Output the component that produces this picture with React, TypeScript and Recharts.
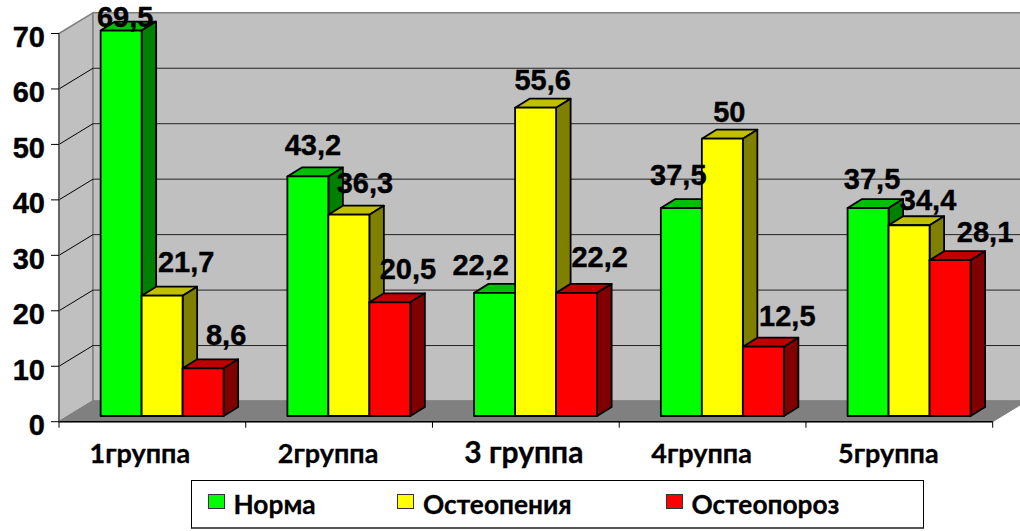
import React from "react";
import { BarChart, Bar, XAxis, YAxis, CartesianGrid, Legend, LabelList } from "recharts";

const categories = ["1группа", "2группа", "3 группа", "4группа", "5группа"];
const norma = [69.5, 43.2, 22.2, 37.5, 37.5];
const osteopenia = [21.7, 36.3, 55.6, 50, 34.4];
const osteoporosis = [8.6, 20.5, 22.2, 12.5, 28.1];
const yTicks = [0, 10, 20, 30, 40, 50, 60, 70];
const seriesNames = ["Норма", "Остеопения", "Остеопороз"];

const chartData = categories.map((name, i) => ({
  name,
  norma: norma[i],
  osteopenia: osteopenia[i],
  osteoporosis: osteoporosis[i],
}));

// manual label placement (dx from bar centre, baseline rise above bar top)
const nudgeNorma = [[4, 3.5], [5, 21.5], [-14, 17.5], [-3, 23.5], [4, 19]];
const nudgeOsteopenia = [[24, 23.5], [16, 21.5], [7, 17.5], [7, 16.5], [19, 15.5]];
const nudgeOsteoporosis = [[23, 23], [18, 23.5], [23, 25.5], [24, 21], [35, 18]];
const tickNudge = [-12.5, -11, -2, -11, -11];

const W = 1020, H = 531;
const LEFT = 59, RIGHT = 992.7, TOP = 33.5, BOTTOM = 421.7;
const WALL_DX = 34, WALL_DY = 20.7;
const BAR_DX = 14.5, BAR_DY = 9;
const SHIFT_X = 10.5, SHIFT_Y = 5.7;
const LEGEND_H = 49;
const LABEL_FONT = "'Liberation Sans', Arial, sans-serif";
const CAT_FONT = "Lato, 'Noto Sans', sans-serif";

const Walls = () => (
  <svg width={W} height={H} style={{ position: "absolute", left: 0, top: 0 }}>
    <polygon points={`${LEFT},${TOP} ${LEFT + WALL_DX},${TOP - WALL_DY} ${LEFT + WALL_DX},${BOTTOM - WALL_DY} ${LEFT},${BOTTOM}`} fill="#c0c0c0" stroke="#808080" strokeWidth={1.5} />
    <polygon points={`${LEFT + WALL_DX},${TOP - WALL_DY} ${W + 10},${TOP - WALL_DY} ${W + 10},${BOTTOM - WALL_DY} ${LEFT + WALL_DX},${BOTTOM - WALL_DY}`} fill="#c0c0c0" stroke="#808080" strokeWidth={1.5} />
    <polygon points={`${LEFT},${BOTTOM} ${LEFT + WALL_DX},${BOTTOM - WALL_DY} ${RIGHT + WALL_DX},${BOTTOM - WALL_DY} ${RIGHT},${BOTTOM}`} fill="#808080" stroke="#808080" />
  </svg>
);

const GridLine = (props: any) => {
  const { x1, y1, y2 } = props;
  if (Math.abs(y1 - BOTTOM) < 1 || Math.abs(y1 - TOP) < 1) return <g />;
  return (
    <g>
      <line x1={x1} y1={y1} x2={x1 + WALL_DX} y2={y2 - WALL_DY} stroke="#000" strokeWidth={1} />
      <line x1={x1 + WALL_DX} y1={y1 - WALL_DY} x2={W + 10} y2={y2 - WALL_DY} stroke="#222" strokeWidth={1} />
    </g>
  );
};

const boxShape = (front: string, top: string, side: string) => (props: any) => {
  const x = props.x + SHIFT_X, y = props.y - SHIFT_Y, w = props.width, h = props.height;
  const common = { stroke: "#000", strokeWidth: 1.8, strokeLinejoin: "round" as const };
  return (
    <g>
      <polygon points={`${x},${y} ${x + BAR_DX},${y - BAR_DY} ${x + w + BAR_DX},${y - BAR_DY} ${x + w},${y}`} fill={top} {...common} />
      <polygon points={`${x + w},${y} ${x + w + BAR_DX},${y - BAR_DY} ${x + w + BAR_DX},${y + h - BAR_DY} ${x + w},${y + h}`} fill={side} {...common} />
      <rect x={x} y={y} width={w} height={h} fill={front} {...common} />
    </g>
  );
};

const valueLabel = (nudges: number[][]) => (props: any) => {
  const { x, y, width, value, index } = props;
  const [dx, rise] = nudges[index];
  return (
    <text x={x + SHIFT_X + width / 2 + dx} y={y - SHIFT_Y - rise} textAnchor="middle" fontFamily={LABEL_FONT} fontWeight="bold" fontSize={29} fill="#000" stroke="#000" strokeWidth={0.4}>
      {String(value).replace(".", ",")}
    </text>
  );
};

const CategoryTick = (props: any) => {
  const { x, y, payload, index } = props;
  const big = payload.value === categories[2];
  const band = (RIGHT - LEFT) / categories.length;
  const last = index === categories.length - 1;
  return (
    <g>
      <line x1={x - band / 2} y1={BOTTOM} x2={x - band / 2} y2={BOTTOM + 6} stroke="#000" strokeWidth={1} />
      {last && <line x1={x + band / 2} y1={BOTTOM} x2={x + band / 2} y2={BOTTOM + 6} stroke="#000" strokeWidth={1} />}
      <text x={x + tickNudge[index]} y={y + 33} textAnchor="middle" fontFamily={CAT_FONT} fontWeight="bold" fontSize={big ? 30 : 27} fill="#000" stroke="#000" strokeWidth={0.3}>
        {payload.value}
      </text>
    </g>
  );
};

const legendLefts = [206.5, 396, 664.5];
const legendColors = ["#00ff00", "#ffff00", "#ff0000"];

const LegendBox = () => (
  <div style={{ position: "relative", width: 733, height: LEGEND_H, boxSizing: "border-box", border: "1px solid #000", borderBottom: "2px solid #555", background: "#fff" }}>
    {seriesNames.map((n, i) => (
      <React.Fragment key={n}>
        <div style={{ position: "absolute", left: legendLefts[i] - 190.5, top: 13, width: 17, height: 15, boxSizing: "border-box", background: legendColors[i], border: "1.5px solid #333" }} />
        <div style={{ position: "absolute", left: legendLefts[i] - 190.5 + 26, top: 6, lineHeight: "34px", fontFamily: CAT_FONT, fontWeight: "bold", fontSize: 26.3, color: "#000", whiteSpace: "nowrap", WebkitTextStroke: "0.3px #000" }}>{n}</div>
      </React.Fragment>
    ))}
  </div>
);

export default function App() {
  return (
    <div style={{ position: "absolute", left: 0, top: 0, width: W, height: H, overflow: "hidden" }}>
      <Walls />
      <BarChart
        width={W}
        height={H}
        data={chartData}
        margin={{ top: TOP, right: W - RIGHT, bottom: 0, left: 0 }}
        barCategoryGap="16.67%"
        barGap={0}
      >
        <CartesianGrid vertical={false} horizontal={GridLine as any} />
        <XAxis dataKey="name" type="category" tick={CategoryTick as any} tickLine={false} tickSize={6} axisLine={{ stroke: "#000", strokeWidth: 1.5 }} interval={0} height={H - BOTTOM - LEGEND_H} />
        <YAxis type="number" domain={[0, 70]} ticks={yTicks} interval={0} width={LEFT} tickSize={8} tickLine={{ stroke: "#000" }} axisLine={{ stroke: "#555", strokeWidth: 1.5 }} tick={{ fontFamily: LABEL_FONT, fontWeight: "bold", fontSize: 29, fill: "#000", stroke: "#000", strokeWidth: 0.4, dy: 3 }} tickMargin={6} />
        <Legend content={<LegendBox />} wrapperStyle={{ position: "absolute", left: 190.5, top: 479.5, width: 733, height: LEGEND_H, bottom: "auto" }} />
        <Bar dataKey="norma" name={seriesNames[0]} fill="#00ff00" isAnimationActive={false} shape={boxShape("#00ff00", "#00c000", "#008000")}>
          <LabelList dataKey="norma" content={valueLabel(nudgeNorma)} />
        </Bar>
        <Bar dataKey="osteopenia" name={seriesNames[1]} fill="#ffff00" isAnimationActive={false} shape={boxShape("#ffff00", "#c0c000", "#808000")}>
          <LabelList dataKey="osteopenia" content={valueLabel(nudgeOsteopenia)} />
        </Bar>
        <Bar dataKey="osteoporosis" name={seriesNames[2]} fill="#ff0000" isAnimationActive={false} shape={boxShape("#ff0000", "#c00000", "#800000")}>
          <LabelList dataKey="osteoporosis" content={valueLabel(nudgeOsteoporosis)} />
        </Bar>
      </BarChart>
    </div>
  );
}
